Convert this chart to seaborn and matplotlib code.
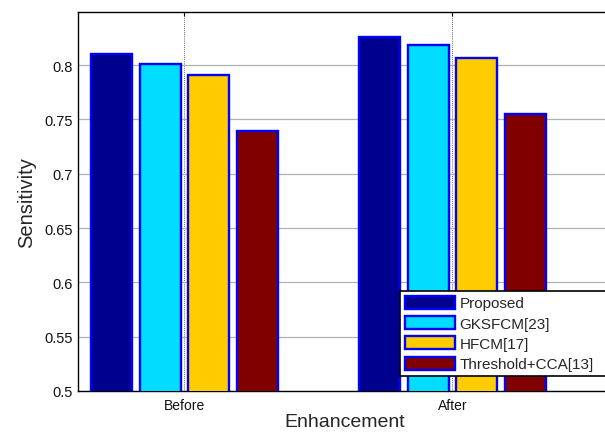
import matplotlib
matplotlib.use("Agg")
import matplotlib.pyplot as plt
import seaborn as sns
import pandas as pd

# Sensitivity of each segmentation method, before and after enhancement
stages = ["Before", "After"]
methods = ["Proposed", "GKSFCM[23]", "HFCM[17]", "Threshold+CCA[13]"]
before_vals = [0.810, 0.801, 0.791, 0.739]
after_vals = [0.826, 0.819, 0.807, 0.755]
palette = ["#00008F", "#00DDFF", "#FFCC00", "#800000"]
yticks = [0.5, 0.55, 0.6, 0.65, 0.7, 0.75, 0.8]

df = pd.DataFrame({
    "Enhancement": [s for s in stages for _ in methods],
    "Method": methods * 2,
    "Sensitivity": before_vals + after_vals,
})

sns.set_theme(style="white")
plt.rcParams["font.family"] = ["Liberation Sans", "DejaVu Sans"]

W, H = 605, 435
fig = plt.figure(figsize=(W / 100, H / 100), dpi=100)
left, right, top, bottom = 78.3, 612, 12.7, 392
ax = fig.add_axes([left / W, 1 - bottom / H, (right - left) / W, (bottom - top) / H])

sns.barplot(data=df, x="Enhancement", y="Sensitivity", hue="Method",
            order=stages, hue_order=methods, palette=palette,
            width=0.727, gap=0.16, edgecolor="#0000FF", linewidth=1.7,
            saturation=1, ax=ax, zorder=3)

ax.set_ylim(0.5, 0.8492)
x0 = 184.4
unit = 268.0
ax.set_xlim(-(x0 - left) / unit, (right - x0) / unit)
ax.set_yticks(yticks)
ax.set_yticklabels([f"{v:g}" for v in yticks], fontsize=10.5)
ax.set_xticks([0, 1])
ax.set_xticklabels(stages, fontsize=10)

# horizontal grid solid grey, vertical grid dotted
ax.yaxis.grid(True, color="#b0b0b0", linewidth=0.9, linestyle="-", zorder=0)
ax.xaxis.grid(True, color="#333333", linewidth=0.6, linestyle=(0, (1, 1.5)), zorder=0)
ax.set_axisbelow(True)

for s in ax.spines.values():
    s.set_color("black")
    s.set_linewidth(1.0)

ax.tick_params(axis="both", direction="in", length=3, width=0.8, color="black",
               top=True, right=False, pad=4, labelcolor="#111111")
ax.tick_params(axis="x", pad=5)

ax.set_xlabel("Enhancement", fontsize=14, labelpad=1)
ax.set_ylabel("Sensitivity", fontsize=14.5, labelpad=6)

# legend box stretches to the (clipped) right edge of the axes
lx = (400 - left) / (right - left)
ly = (bottom - 377) / (bottom - top)
lh = (377 - 288) / (bottom - top)
leg = ax.legend(loc="lower left", bbox_to_anchor=(lx, ly, 1.0 - lx + 0.01, lh),
                mode="expand",
                fontsize=11, frameon=True, fancybox=False, framealpha=1,
                edgecolor="black", borderpad=0.3, labelspacing=0.36,
                handlelength=3.3, handleheight=0.95, handletextpad=0.3, borderaxespad=0)
leg.get_frame().set_linewidth(1.2)

fig.savefig("out.png", dpi=100)
